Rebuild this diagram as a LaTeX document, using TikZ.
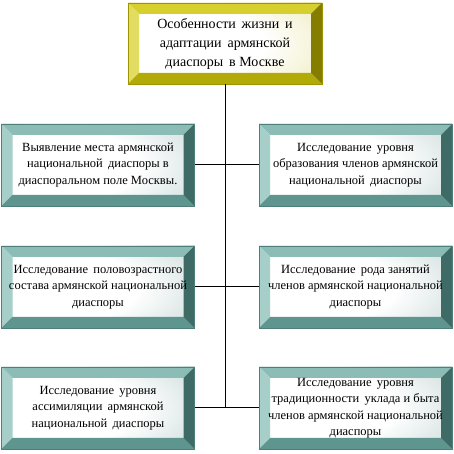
\documentclass[tikz,border=0pt]{standalone}
\usepackage{fontspec}
\setmainfont{Liberation Serif}
\usepackage{tikz}

\definecolor{tealtop}{HTML}{8CBCB6}
\definecolor{tealleft}{HTML}{A6CFCA}
\definecolor{tealbot}{HTML}{5E968F}
\definecolor{tealright}{HTML}{3F6B66}
\definecolor{tealface}{HTML}{86ACA8}
\definecolor{tealedge}{HTML}{4F7F7A}
\definecolor{oltop}{HTML}{D6CF2E}
\definecolor{olleft}{HTML}{E2DC62}
\definecolor{olbot}{HTML}{B2AA06}
\definecolor{olright}{HTML}{847D00}
\definecolor{olface}{HTML}{D8D060}
\definecolor{oledge}{HTML}{9C9400}

\pgfdeclareradialshading{tealgrad}{\pgfpoint{-15bp}{0bp}}{color(0bp)=(white); color(22bp)=(white); color(70bp)=(tealface); color(100bp)=(tealface)}
\pgfdeclareradialshading{olgrad}{\pgfpoint{-15bp}{0bp}}{color(0bp)=(white); color(22bp)=(white); color(70bp)=(olface); color(100bp)=(olface)}

\tikzset{
  bevel/.style n args={4}{path picture={
    \fill[#1] (path picture bounding box.north west) -- (path picture bounding box.north east)
      -- ([xshift=-11pt,yshift=-11pt]path picture bounding box.north east)
      -- ([xshift=11pt,yshift=-11pt]path picture bounding box.north west) -- cycle;
    \fill[#2] (path picture bounding box.north west) -- ([xshift=11pt,yshift=-11pt]path picture bounding box.north west)
      -- ([xshift=11pt,yshift=11pt]path picture bounding box.south west)
      -- (path picture bounding box.south west) -- cycle;
    \fill[#3] (path picture bounding box.south west) -- (path picture bounding box.south east)
      -- ([xshift=-11pt,yshift=11pt]path picture bounding box.south east)
      -- ([xshift=11pt,yshift=11pt]path picture bounding box.south west) -- cycle;
    \fill[#4] (path picture bounding box.north east) -- ([xshift=-11pt,yshift=-11pt]path picture bounding box.north east)
      -- ([xshift=-11pt,yshift=11pt]path picture bounding box.south east)
      -- (path picture bounding box.south east) -- cycle;
  }},
  tealbox/.style={shading=tealgrad, bevel={tealtop}{tealleft}{tealbot}{tealright},
    draw=tealedge, line width=0.5pt, inner sep=0pt, align=center,
    minimum width=193pt, minimum height=82pt,
    font=\fontsize{12.5}{16.5}\selectfont},
  titlebox/.style={shading=olgrad, bevel={oltop}{olleft}{olbot}{olright},
    draw=oledge, line width=0.5pt, inner sep=0pt, align=center,
    minimum width=194pt, minimum height=81pt,
    font=\fontsize{14}{19}\selectfont},
  link/.style={draw=black, line width=1pt}
}

\begin{document}
\begin{tikzpicture}[x=1pt,y=1pt]
\useasboundingbox (0,0) rectangle (454,454);
\node[titlebox] (title) at (225,410.5) {Особенности\, жизни\, и\\ адаптации\, армянской\\ диаспоры\, в Москве};
\node[tealbox] (l1) at (98,289) {Выявление места армянской\\ национальной\, диаспоры в\\ диаспоральном поле Москвы.};
\node[tealbox] (r1) at (355.5,289) {Исследование\, уровня\\ образования членов армянской\\ национальной\, диаспоры};
\node[tealbox] (l2) at (98,167) {Исследование\, половозрастного\\ состава армянской национальной\\ диаспоры};
\node[tealbox] (r2) at (355.5,167) {Исследование\, рода занятий\\ членов армянской национальной\\ диаспоры};
\node[tealbox] (l3) at (98,46) {Исследование\, уровня\\ ассимиляции\, армянской\\ национальной\, диаспоры};
\node[tealbox] (r3) at (355.5,46) {Исследование\, уровня\\ традиционности\, уклада и быта\\ членов армянской национальной\\ диаспоры};
\draw[link] (title.south) -- (title.south |- l3.east);
\draw[link] (l1.east) -- (r1.west);
\draw[link] (l2.east) -- (r2.west);
\draw[link] (l3.east) -- (r3.west);
\end{tikzpicture}
\end{document}
